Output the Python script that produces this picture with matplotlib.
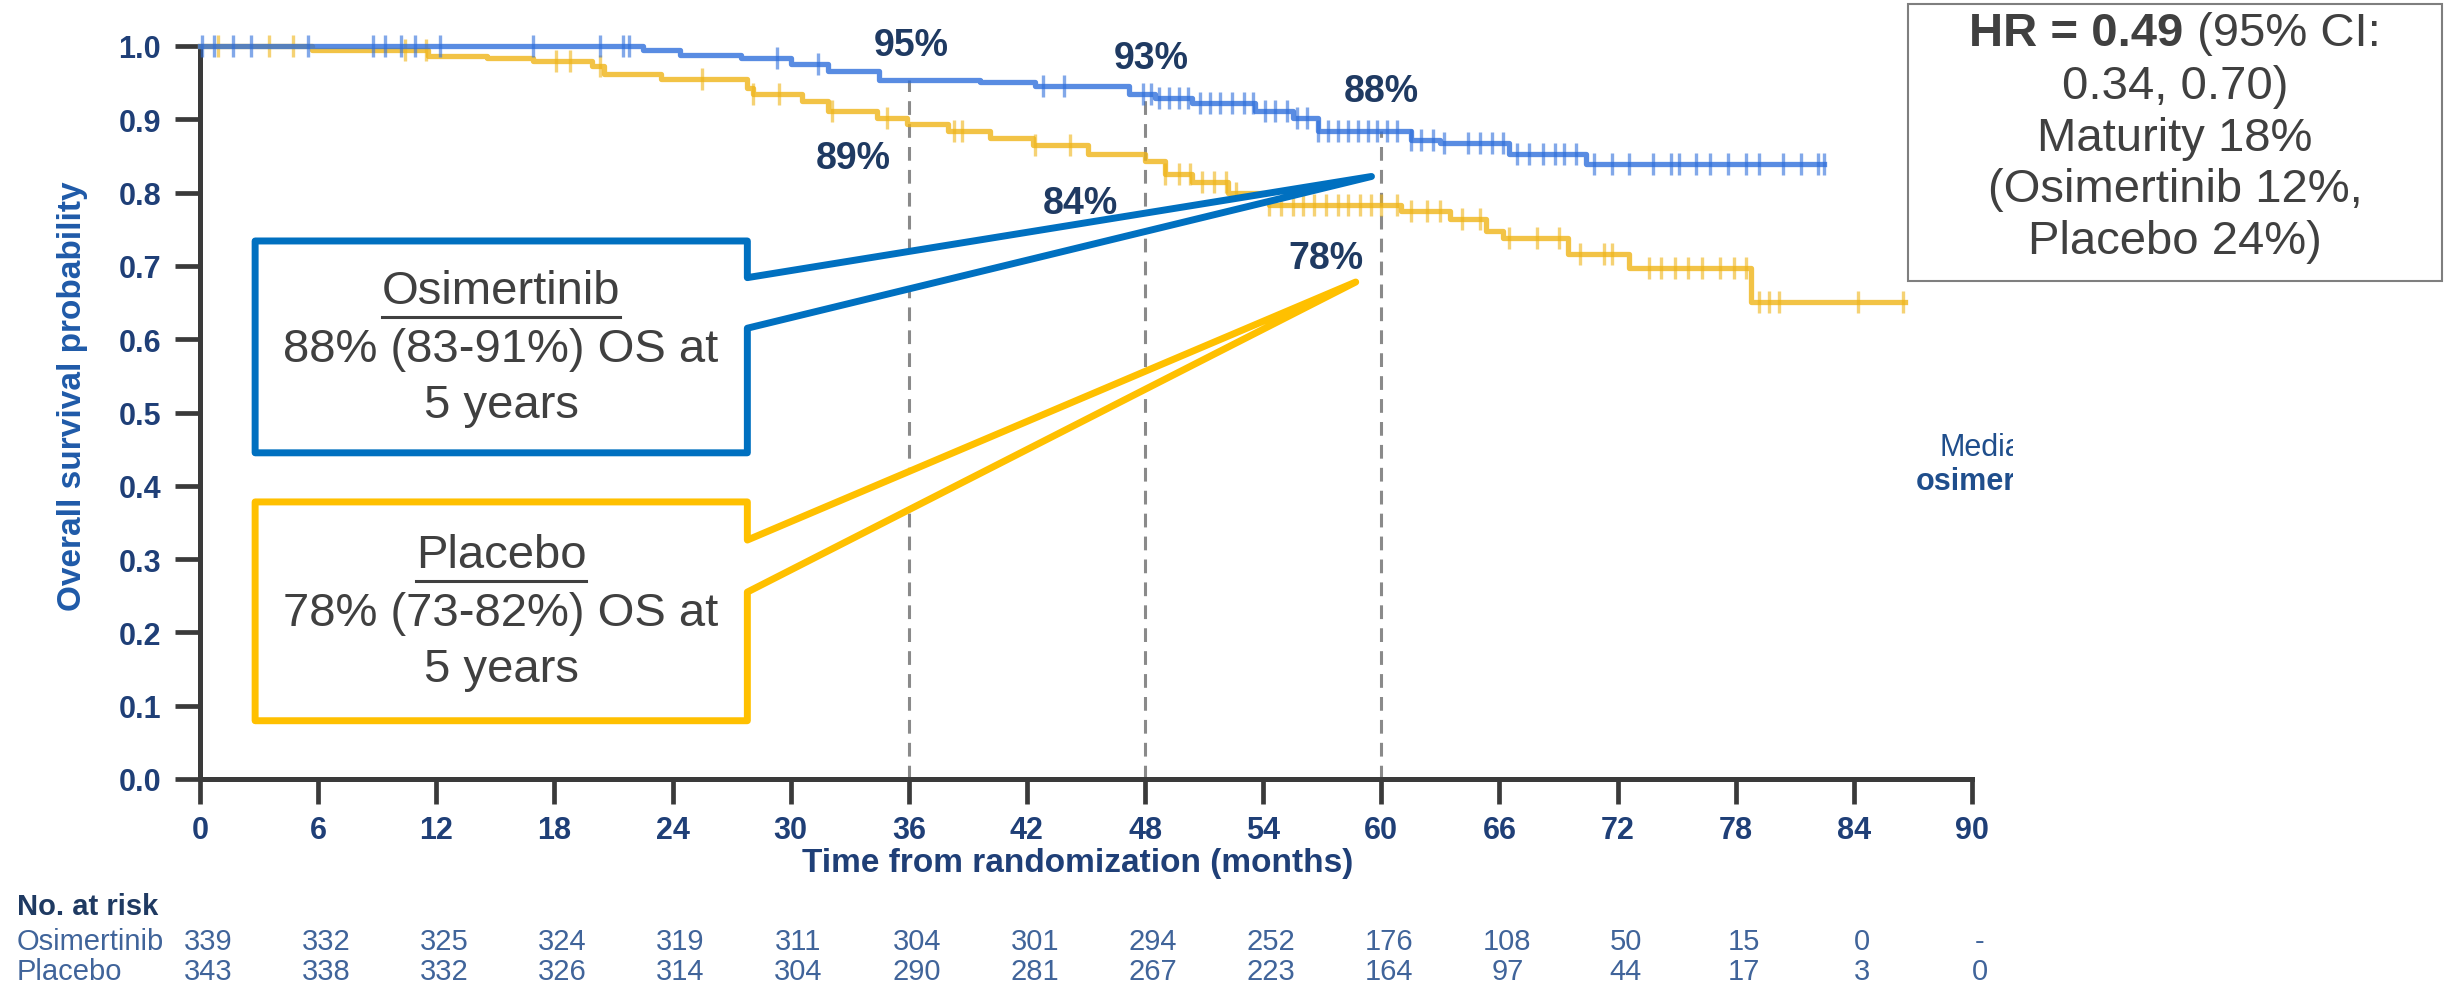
import numpy as np
import matplotlib
matplotlib.use('Agg')
import matplotlib.pyplot as plt
from matplotlib.patches import Polygon, Rectangle
from matplotlib.lines import Line2D
from matplotlib.transforms import blended_transform_factory, Bbox, TransformedBbox

plt.rcParams['font.family'] = ['Liberation Sans', 'DejaVu Sans']

W, H = 2445, 987

# Kaplan-Meier steps: time of each drop (months) and survival after it
osi_t = [0, 22.5, 24.4, 27.5, 30.0, 31.9, 34.5, 39.6, 42.4, 47.2, 48.5, 50.4, 53.6,
         55.5, 56.8, 61.5, 63.0, 66.5, 70.4]
osi_s = [1.0, 0.995, 0.988, 0.983, 0.975, 0.966, 0.954, 0.951, 0.945, 0.934, 0.929,
         0.922, 0.911, 0.902, 0.884, 0.872, 0.867, 0.853, 0.839]
osi_end = 82.5

pbo_t = [0, 5.7, 11.6, 14.6, 16.9, 19.9, 20.5, 23.4, 27.8, 28.1, 30.6, 31.9, 34.4,
         35.9, 38.0, 40.1, 42.3, 45.1, 48.0, 49.0, 50.4, 52.2, 54.3, 61.0, 63.5, 65.3,
         66.2, 69.5, 72.6, 78.8]
pbo_s = [1.0, 0.995, 0.987, 0.983, 0.979, 0.973, 0.962, 0.955, 0.943, 0.934, 0.925,
         0.912, 0.902, 0.893, 0.884, 0.874, 0.865, 0.852, 0.843, 0.826, 0.815, 0.799,
         0.783, 0.775, 0.764, 0.747, 0.738, 0.716, 0.697, 0.651]
pbo_end = 86.6

# censored observations (months)
osi_cens = [0.1, 0.7, 1.7, 2.6, 5.5, 8.8, 9.4, 10.2, 10.9, 12.2, 16.9, 20.3, 21.5, 21.8,
            29.3, 31.4, 42.8, 43.9, 47.9, 48.3, 48.7, 49.2, 49.7, 50.2, 50.8, 51.3, 51.8,
            52.4, 53.0, 53.5, 54.1, 54.6, 55.2, 55.7, 56.2, 56.8, 57.3, 57.8, 58.3, 58.8,
            59.3, 59.8, 60.3, 60.8, 61.5, 62.0, 62.6, 63.2, 64.4, 65.0, 65.6, 66.2, 66.9,
            67.5, 68.2, 68.8, 69.3, 69.9, 70.8, 71.7, 72.6, 73.8, 74.7, 75.1, 76.0, 76.7,
            77.6, 78.5, 79.2, 80.4, 81.3, 82.2, 82.5]
pbo_cens = [0.9, 3.5, 4.7, 10.4, 11.5, 18.1, 18.8, 20.3, 25.5, 28.1, 29.4, 32.1, 34.9,
            38.3, 38.7, 42.4, 44.2, 49.0, 49.7, 50.3, 50.9, 51.5, 52.1, 52.6, 54.3, 54.9,
            55.5, 56.0, 56.6, 57.2, 57.8, 58.3, 58.9, 59.5, 60.0, 60.8, 61.5, 62.3, 63.0,
            64.1, 65.0, 66.5, 67.9, 69.0, 70.1, 71.3, 71.7, 73.6, 74.2, 74.9, 75.6, 76.3,
            77.2, 77.9, 78.5, 79.2, 79.7, 80.2, 84.2, 86.5]

landmarks = [36, 48, 60]
x_ticks = list(range(0, 91, 6))
y_ticks = [0.0, 0.1, 0.2, 0.3, 0.4, 0.5, 0.6, 0.7, 0.8, 0.9, 1.0]

risk_osi = ['339', '332', '325', '324', '319', '311', '304', '301', '294', '252',
            '176', '108', '50', '15', '0', '-']
risk_pbo = ['343', '338', '332', '326', '314', '304', '290', '281', '267', '223',
            '164', '97', '44', '17', '3', '0']

hr_lines = ['0.34, 0.70)', 'Maturity 18%', '(Osimertinib 12%,', 'Placebo 24%)']

BLUE = '#2f6fdb'
GOLD = '#efb418'
NAVY = '#1f3f77'
TXT = '#404040'


def surv_at(t, s, x):
    idx = np.searchsorted(np.asarray(t), np.asarray(x), side='right') - 1
    return np.asarray(s)[idx]


def fx(px):
    return px / W


def fy(py):
    return 1 - py / H


fig = plt.figure(figsize=(W / 100, H / 100), dpi=100)
ax = fig.add_axes([fx(200), fy(780), fx(1972) - fx(200), fy(47) - fy(780)])

# dashed landmark lines up to the osimertinib curve
for m in landmarks:
    ax.plot([m, m], [0, surv_at(osi_t, osi_s, m)], color='#8a8a8a', lw=2.2,
            dashes=(4.5, 3), zorder=1)

for t, s, end, cens, col in [(pbo_t, pbo_s, pbo_end, pbo_cens, GOLD),
                             (osi_t, osi_s, osi_end, osi_cens, BLUE)]:
    ax.step(list(t) + [end], list(s) + [s[-1]], where='post', color=col, lw=3.8,
            alpha=0.8, clip_on=False, zorder=3)
    ax.plot(cens, surv_at(t, s, cens), ls='none', marker='|', ms=16, mew=2.4,
            color=col, alpha=0.6, clip_on=False, zorder=3)

# landmark percentages
osi_lab_pos = [(36.1, 1.002), (48.3, 0.983), (60.0, 0.938)]
pbo_lab_pos = [(33.2, 0.847), (44.7, 0.786), (57.2, 0.711)]
for m, (x, y) in zip(landmarks, osi_lab_pos):
    ax.text(x, y, '%d%%' % round(100 * surv_at(osi_t, osi_s, m)), ha='center',
            va='center', fontsize=27, fontweight='bold', color='#1f3a62', zorder=5)
for m, (x, y) in zip(landmarks, pbo_lab_pos):
    ax.text(x, y, '%d%%' % round(100 * surv_at(pbo_t, pbo_s, m)), ha='center',
            va='center', fontsize=27, fontweight='bold', color='#1f3a62', zorder=5)

ax.set_xlim(0, 90)
ax.set_ylim(0, 1.0)
ax.set_xticks(x_ticks)
ax.set_yticks(y_ticks)
ax.set_xticklabels([str(v) for v in x_ticks])
ax.set_yticklabels(['%.1f' % v for v in y_ticks])
for sp in ['top', 'right']:
    ax.spines[sp].set_visible(False)
for sp in ['left', 'bottom']:
    ax.spines[sp].set_linewidth(3.6)
    ax.spines[sp].set_color('#3a3a3a')
ax.tick_params(axis='both', length=18, width=3.4, color='#3a3a3a', labelsize=22,
               labelcolor=NAVY)
ax.tick_params(axis='y', pad=10)
ax.tick_params(axis='x', pad=8)
for lab in ax.get_xticklabels() + ax.get_yticklabels():
    lab.set_fontweight('bold')

fig.text(fx(73), fy(396), 'Overall survival probability', rotation=90, ha='center',
         va='center', fontsize=24, fontweight='bold', color='#1f5aa8')
fig.text(fx(1078), fy(864), 'Time from randomization (months)', ha='center',
         va='center', fontsize=24, fontweight='bold', color=NAVY)

# callout boxes
osi_box = [(2.8, 0.734), (27.8, 0.734), (27.8, 0.684), (59.5, 0.822), (27.8, 0.615),
           (27.8, 0.445), (2.8, 0.445)]
pbo_box = [(2.8, 0.378), (27.8, 0.378), (27.8, 0.326), (58.7, 0.678), (27.8, 0.255),
           (27.8, 0.0795), (2.8, 0.0795)]
ax.add_patch(Polygon(osi_box, closed=True, facecolor='white', edgecolor='#0070c0',
                     lw=5, joinstyle='round', zorder=6))
ax.add_patch(Polygon(pbo_box, closed=True, facecolor='white', edgecolor='#ffc000',
                     lw=5, joinstyle='round', zorder=6))

renderer = fig.canvas.get_renderer()


def box_text(lines, ys, cx):
    for i, (txt, y) in enumerate(zip(lines, ys)):
        t = fig.text(fx(cx), fy(y), txt, ha='center', va='center', fontsize=34,
                     color=TXT, zorder=7)
        if i == 0:
            bb = t.get_window_extent(renderer)
            uy = fy(y + 26)
            fig.add_artist(Line2D([bb.x0 / W, bb.x1 / W], [uy, uy], color=TXT, lw=2.2,
                                  zorder=7))


box_text(['Osimertinib', '88% (83-91%) OS at', '5 years'], [292, 350, 406], 501)
box_text(['Placebo', '78% (73-82%) OS at', '5 years'], [556, 614, 670], 501)

# hazard ratio box
fig.add_artist(Rectangle((fx(1908), fy(282)), fx(2442) - fx(1908), fy(5) - fy(282),
                         transform=fig.transFigure, facecolor='white',
                         edgecolor='#7f7f7f', lw=1.5))
t1 = fig.text(0, fy(34), 'HR = 0.49', ha='left', va='center', fontsize=34,
              fontweight='bold', color=TXT)
t2 = fig.text(0, fy(34), ' (95% CI:', ha='left', va='center', fontsize=34, color=TXT)
w1 = t1.get_window_extent(renderer).width
w2 = t2.get_window_extent(renderer).width
x0 = 2175 - (w1 + w2) / 2
t1.set_x(fx(x0))
t2.set_x(fx(x0 + w1))
for txt, y in zip(hr_lines, [87, 139, 190, 242]):
    fig.text(fx(2175), fy(y), txt, ha='center', va='center', fontsize=34, color=TXT)

# cropped median annotation at the right edge
clip = TransformedBbox(Bbox.from_extents(0, 0, fx(2013), 1), fig.transFigure)
for txt, y, x, wt in [('Median', 448, 1940, 'normal'), ('osimertinib', 482, 1916, 'bold')]:
    t = fig.text(fx(x), fy(y), txt, ha='left', va='center', fontsize=22, fontweight=wt,
                 color='#1f4e8c')
    t.set_clip_on(True)
    t.set_clip_box(clip)

# numbers at risk
tr = blended_transform_factory(ax.transData, fig.transFigure)
fig.text(fx(17), fy(907), 'No. at risk', ha='left', va='center', fontsize=21,
         fontweight='bold', color='#1f3a62')
for name, vals, y in [('Osimertinib', risk_osi, 942), ('Placebo', risk_pbo, 972)]:
    fig.text(fx(17), fy(y), name, ha='left', va='center', fontsize=21, color='#40649a')
    for m, v in zip(x_ticks, vals):
        ax.text(m + 0.4, fy(y), v, transform=tr, ha='center', va='center', fontsize=21,
                color='#40649a', clip_on=False)

fig.savefig('out.png', dpi=100, facecolor='white')
